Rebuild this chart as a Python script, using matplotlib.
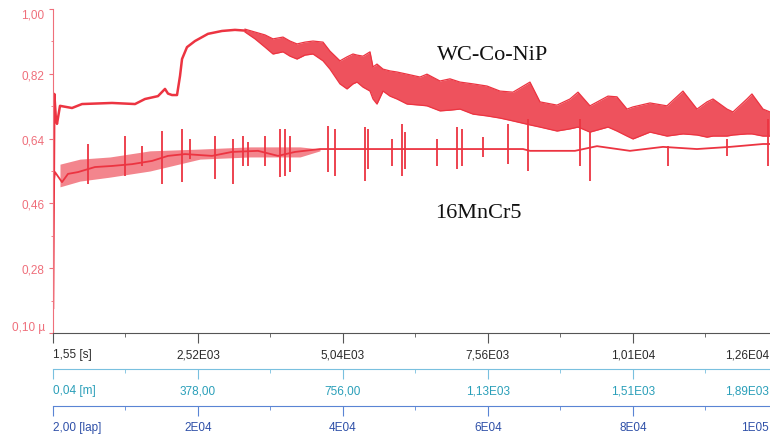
import numpy as np
import matplotlib.pyplot as plt
import matplotlib.transforms as mtransforms

# time axis [s], friction coefficient mu
# WC-Co-NiP, thin part of the trace (run-in and plateau)
wc_t = [1.55, 25, 50, 71, 123, 332, 506, 1027, 1427, 1600, 1826, 1948, 2000,
        2070, 2157, 2209, 2244, 2330, 2469, 2695, 2939, 3164, 3339]
wc_mu = [0.17, 0.764, 0.700, 0.681, 0.731, 0.725, 0.736, 0.739, 0.736, 0.750,
         0.758, 0.778, 0.765, 0.761, 0.761, 0.814, 0.861, 0.894, 0.911, 0.931,
         0.939, 0.942, 0.940]

# WC-Co-NiP, noisy part as an upper / lower envelope
wc_band_t = [3339, 3512, 3686, 3825, 3999, 4120, 4242, 4381, 4520, 4694, 4815,
             4989, 5111, 5215, 5285, 5389, 5511, 5563, 5632, 5737, 5858, 5980,
             6154, 6380, 6501, 6727, 6901, 7075, 7301, 7544, 7770, 7996, 8291,
             8465, 8761, 8986, 9126, 9334, 9647, 9803, 9977, 10081, 10377,
             10672, 10950, 11194, 11368, 11472, 11715, 11819, 12062, 12149,
             12341, 12463, 12984]
wc_band_hi = [0.944, 0.936, 0.928, 0.917, 0.922, 0.911, 0.903, 0.908, 0.911,
              0.908, 0.883, 0.856, 0.867, 0.875, 0.872, 0.869, 0.881, 0.839,
              0.847, 0.833, 0.828, 0.825, 0.819, 0.811, 0.819, 0.800, 0.806,
              0.797, 0.792, 0.786, 0.772, 0.769, 0.797, 0.742, 0.733, 0.750,
              0.769, 0.731, 0.758, 0.756, 0.722, 0.728, 0.739, 0.731, 0.772,
              0.722, 0.742, 0.750, 0.722, 0.714, 0.750, 0.764, 0.722, 0.714,
              0.714]
wc_band_lo = [0.936, 0.917, 0.894, 0.875, 0.881, 0.869, 0.861, 0.872, 0.875,
              0.856, 0.833, 0.792, 0.778, 0.792, 0.797, 0.783, 0.772, 0.750,
              0.736, 0.772, 0.758, 0.750, 0.736, 0.733, 0.731, 0.717, 0.719,
              0.722, 0.708, 0.703, 0.697, 0.689, 0.678, 0.672, 0.661, 0.667,
              0.672, 0.658, 0.672, 0.661, 0.647, 0.639, 0.658, 0.647, 0.653,
              0.650, 0.644, 0.647, 0.647, 0.650, 0.653, 0.653, 0.647, 0.647,
              0.647]

# 16MnCr5 base line
mn_t = [1.55, 36, 158, 262, 436, 731, 1027, 1374, 1722, 2000, 2296, 2765, 3112,
        3564, 3912, 4207, 4642, 6032, 8170, 8291, 9073, 9456, 10029, 10603,
        11193, 11767, 12341, 12984]
mn_mu = [0.50, 0.547, 0.519, 0.542, 0.547, 0.561, 0.564, 0.569, 0.578, 0.592,
         0.597, 0.592, 0.603, 0.606, 0.592, 0.603, 0.611, 0.611, 0.611, 0.606,
         0.606, 0.619, 0.606, 0.617, 0.611, 0.617, 0.625, 0.625]

# 16MnCr5 early scatter band
mn_band_t = [123, 471, 992, 1687, 2556, 3425, 4294, 4642]
mn_band_hi = [0.569, 0.583, 0.589, 0.606, 0.611, 0.617, 0.617, 0.611]
mn_band_lo = [0.506, 0.522, 0.533, 0.550, 0.583, 0.589, 0.589, 0.606]

# 16MnCr5 stick-slip spikes
spike_t = [610, 1253, 1548, 1896, 2244, 2383, 2817, 3130, 3304, 3390, 3686,
           3947, 4034, 4121, 4781, 4903, 5424, 5476, 5893, 6067, 6119, 6675,
           7023, 7110, 7475, 7909, 8257, 9160, 9334, 10690, 11715, 12428]
spike_hi = [0.625, 0.647, 0.619, 0.661, 0.667, 0.639, 0.647, 0.639, 0.647,
            0.631, 0.647, 0.667, 0.667, 0.647, 0.675, 0.667, 0.672, 0.667,
            0.639, 0.681, 0.658, 0.639, 0.672, 0.667, 0.644, 0.681, 0.694,
            0.694, 0.658, 0.619, 0.639, 0.694]
spike_lo = [0.514, 0.536, 0.564, 0.514, 0.519, 0.583, 0.528, 0.514, 0.564,
            0.564, 0.564, 0.533, 0.536, 0.547, 0.547, 0.536, 0.522, 0.556,
            0.564, 0.536, 0.556, 0.564, 0.556, 0.564, 0.589, 0.569, 0.550,
            0.564, 0.522, 0.564, 0.592, 0.564]

# axis scales
major_t = [1.55, 2520, 5040, 7560, 10080, 12600]
minor_t = [1260, 3780, 6300, 8820, 11340]
time_labels = ["1,55 [s]", "2,52E03", "5,04E03", "7,56E03", "1,01E04", "1,26E04"]
dist_labels = ["0,04 [m]", "378,00", "756,00", "1,13E03", "1,51E03", "1,89E03"]
lap_labels = ["2,00 [lap]", "2E04", "4E04", "6E04", "8E04", "1E05"]
mu_ticks = [0.10, 0.28, 0.46, 0.64, 0.82, 1.00]
mu_labels = ["0,10 µ", "0,28", "0,46", "0,64", "0,82", "1,00"]

red = "#ec3441"
pink = "#ef6f7b"

plt.rcParams['font.family'] = ['Liberation Sans', 'DejaVu Sans']

W, H = 770, 439
fig = plt.figure(figsize=(W / 100, H / 100), dpi=100)
ax = fig.add_axes([53 / W, 105 / H, 747 / W, 324 / H])

ax.plot(wc_t, wc_mu, color=red, lw=1.8, solid_joinstyle='round')
ax.fill_between(wc_band_t, wc_band_lo, wc_band_hi, color=red, alpha=0.85, lw=0)
ax.plot(wc_band_t, wc_band_hi, color=red, lw=0.9)
ax.plot(wc_band_t, wc_band_lo, color=red, lw=0.9)
ax.fill_between(mn_band_t, mn_band_lo, mn_band_hi, color=red, alpha=0.6, lw=0)
ax.plot(mn_t, mn_mu, color=red, lw=1.3)
ax.vlines(spike_t, spike_lo, spike_hi, color=red, lw=1.3)

ax.set_xlim(1.55, 12984)
ax.set_ylim(0.10, 1.00)

for s in ['top', 'right']:
    ax.spines[s].set_visible(False)
ax.spines['left'].set_color(pink)
ax.spines['bottom'].set_color('#555555')

ax.set_yticks(mu_ticks)
ax.set_yticklabels(mu_labels)
ax.set_yticks([0.19, 0.37, 0.55, 0.73, 0.91], minor=True)
ax.tick_params(axis='y', which='major', colors=pink, length=3, pad=3, labelsize=8.5)
ax.tick_params(axis='y', which='minor', colors=pink, length=1.5)
ylabs = ax.get_yticklabels()
ylabs[0].set_va('bottom')
ylabs[-1].set_va('top')

# the last scale label sits past the figure edge; pull it back inside
shift_left = mtransforms.ScaledTranslation(-9 / 100, 0, fig.dpi_scale_trans)

def style_scale(a, labels, line_color, text_color):
    a.set_xticks(major_t)
    a.set_xticklabels(labels)
    a.set_xticks(minor_t, minor=True)
    a.spines['bottom'].set_color(line_color)
    a.tick_params(axis='x', which='major', colors=line_color, length=7.5,
                  pad=3.5, labelsize=8.5, labelcolor=text_color)
    a.tick_params(axis='x', which='minor', colors=line_color, length=3)
    labs = a.get_xticklabels()
    labs[0].set_ha('left')
    labs[-1].set_ha('right')
    labs[-1].set_transform(labs[-1].get_transform() + shift_left)

style_scale(ax, time_labels, '#555555', '#2a2a2a')

for offset, labels, lc, tc in [(36, dist_labels, '#79c0df', '#2a9fb9'),
                               (73, lap_labels, '#5a84d4', '#2f50a8')]:
    a = ax.twiny()
    a.set_xlim(ax.get_xlim())
    a.xaxis.set_ticks_position('bottom')
    a.spines['bottom'].set_position(('outward', offset * 0.72))
    for s in ['top', 'left', 'right']:
        a.spines[s].set_visible(False)
    style_scale(a, labels, lc, tc)

fig.text(437 / W, 1 - 60 / H, "WC-Co-NiP", family='Liberation Serif',
         fontsize=16, ha='left', va='baseline', color='#111111')
fig.text(435 / W, 1 - 218 / H, "16MnCr5", family='Liberation Serif',
         fontsize=16, ha='left', va='baseline', color='#111111')

fig.savefig("out.png", dpi=100)
